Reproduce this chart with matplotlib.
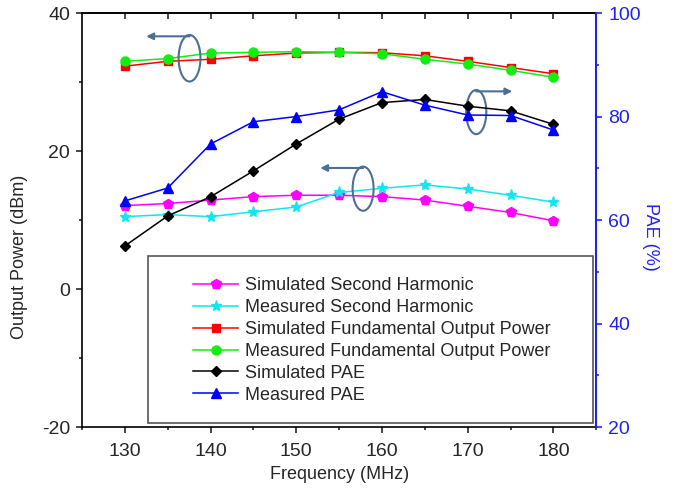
import matplotlib
matplotlib.use("Agg")
import matplotlib.pyplot as plt
from matplotlib.patches import Ellipse, Rectangle
from matplotlib.ticker import MultipleLocator

# 数据：频率 (MHz) 与各曲线取值
freq = [130, 135, 140, 145, 150, 155, 160, 165, 170, 175, 180]

sim_2nd = [12.1, 12.4, 12.9, 13.4, 13.6, 13.6, 13.4, 12.9, 12.0, 11.1, 9.9]
meas_2nd = [10.5, 10.8, 10.5, 11.2, 11.9, 14.0, 14.6, 15.1, 14.5, 13.6, 12.6]
sim_fund = [32.3, 33.0, 33.3, 33.8, 34.2, 34.3, 34.25, 33.8, 33.0, 32.1, 31.2]
meas_fund = [33.0, 33.4, 34.2, 34.3, 34.4, 34.3, 34.1, 33.3, 32.6, 31.7, 30.7]

sim_pae = [55.0, 60.8, 64.5, 69.5, 74.7, 79.5, 82.7, 83.3, 82.0, 81.1, 78.5]
meas_pae = [63.7, 66.2, 74.7, 79.0, 80.0, 81.3, 84.8, 82.2, 80.3, 80.2, 77.4]

TEXT = "#262626"
PAE_BLUE = "#2222ee"
ANNO = "#4d6f96"

plt.rcParams.update({
    "font.family": ["Liberation Sans", "DejaVu Sans"],
    "font.size": 13,
    "axes.unicode_minus": False,
    "axes.linewidth": 1.2,
    "lines.linewidth": 1.1,
    "lines.markersize": 6,
})

fig = plt.figure(figsize=(6.83, 4.91), dpi=100)
ax = fig.add_axes([0.120, 0.130, 0.753, 0.8435])
ax2 = ax.twinx()

# 左轴：输出功率
l1, = ax.plot(freq, sim_2nd, color="#ff00ff", marker="p", markersize=7.5, label="Simulated Second Harmonic")
l2, = ax.plot(freq, meas_2nd, color="#11e5f0", marker="*", markersize=8, label="Measured Second Harmonic")
l3, = ax.plot(freq, sim_fund, color="#ff0000", marker="s", markersize=5.5, label="Simulated Fundamental Output Power")
l4, = ax.plot(freq, meas_fund, color="#11ee11", marker="o", markersize=6.5, label="Measured Fundamental Output Power")

# 右轴：PAE
l5, = ax2.plot(freq, sim_pae, color="black", marker="D", markersize=5.5, label="Simulated PAE")
l6, = ax2.plot(freq, meas_pae, color="#0000ff", marker="^", markersize=7.5, label="Measured PAE")

ax.set_xlim(125, 185)
ax.set_ylim(-20, 40)
ax2.set_ylim(20, 100)

ax.xaxis.set_major_locator(MultipleLocator(10))
ax.xaxis.set_minor_locator(MultipleLocator(5))
ax.yaxis.set_major_locator(MultipleLocator(20))
ax.yaxis.set_minor_locator(MultipleLocator(10))
ax2.yaxis.set_major_locator(MultipleLocator(20))
ax2.yaxis.set_minor_locator(MultipleLocator(10))

ax.tick_params(axis="both", which="major", direction="out", length=4.5, width=1.2,
               labelsize=14, colors=TEXT, pad=4)
ax.tick_params(axis="both", which="minor", direction="out", length=2.5, width=1.2, colors=TEXT)
ax.tick_params(axis="x", which="major", pad=7)
ax2.tick_params(axis="y", which="major", direction="out", length=4.5, width=1.2,
                labelsize=14, colors=PAE_BLUE, pad=4)
ax2.tick_params(axis="y", which="minor", direction="out", length=2.5, width=1.2, colors=PAE_BLUE)

# 顶部刻度朝内，无标签
top = ax.secondary_xaxis("top")
top.set_xticks(freq)
top.tick_params(direction="in", length=4, width=1.2, labeltop=False, colors=TEXT)

ax.spines["right"].set_visible(False)
for s in ["left", "top", "bottom"]:
    ax2.spines[s].set_visible(False)
ax2.spines["right"].set_color(PAE_BLUE)
ax2.spines["right"].set_linewidth(1.5)

ax.set_xlabel("Frequency (MHz)", fontsize=13, color=TEXT, labelpad=4)
ax.set_ylabel("Output Power (dBm)", fontsize=13, color=TEXT)
ax.yaxis.set_label_coords(-0.105, 0.41)
ax2.set_ylabel("PAE (%)", fontsize=13, color=PAE_BLUE, rotation=270, va="center")
ax2.yaxis.set_label_coords(1.105, 0.46)

# 标注曲线对应坐标轴的椭圆与箭头
for (cx, cy, w, h, x_end) in [(137.55, 33.45, 2.55, 6.75, 132.5),
                              (171.0, 25.65, 2.35, 6.4, 175.2),
                              (157.8, 14.55, 2.45, 6.4, 152.8)]:
    ax.add_patch(Ellipse((cx, cy), w, h, fill=False, edgecolor=ANNO, linewidth=1.5, zorder=5))
    y_top = cy + h / 2 - 0.2
    ax.annotate("", xy=(x_end, y_top), xytext=(cx, y_top),
                arrowprops=dict(arrowstyle="-|>", color=ANNO, lw=1.5, mutation_scale=10,
                                shrinkA=0, shrinkB=0), zorder=5)

# 图例框
ax2.add_patch(Rectangle((0.128, 0.01), 0.866, 0.403, transform=ax2.transAxes,
                        facecolor="white", edgecolor="#555555", linewidth=1.2, zorder=10))
leg = ax2.legend(handles=[l1, l2, l3, l4, l5, l6], loc="upper left",
                 bbox_to_anchor=(0.216, 0.362), frameon=False, fontsize=13,
                 labelspacing=0.27, handlelength=2.5, handletextpad=0.35,
                 borderpad=0, borderaxespad=0, numpoints=1)
leg.set_zorder(11)
for t in leg.get_texts():
    t.set_color(TEXT)

fig.savefig("out.png", dpi=100)
